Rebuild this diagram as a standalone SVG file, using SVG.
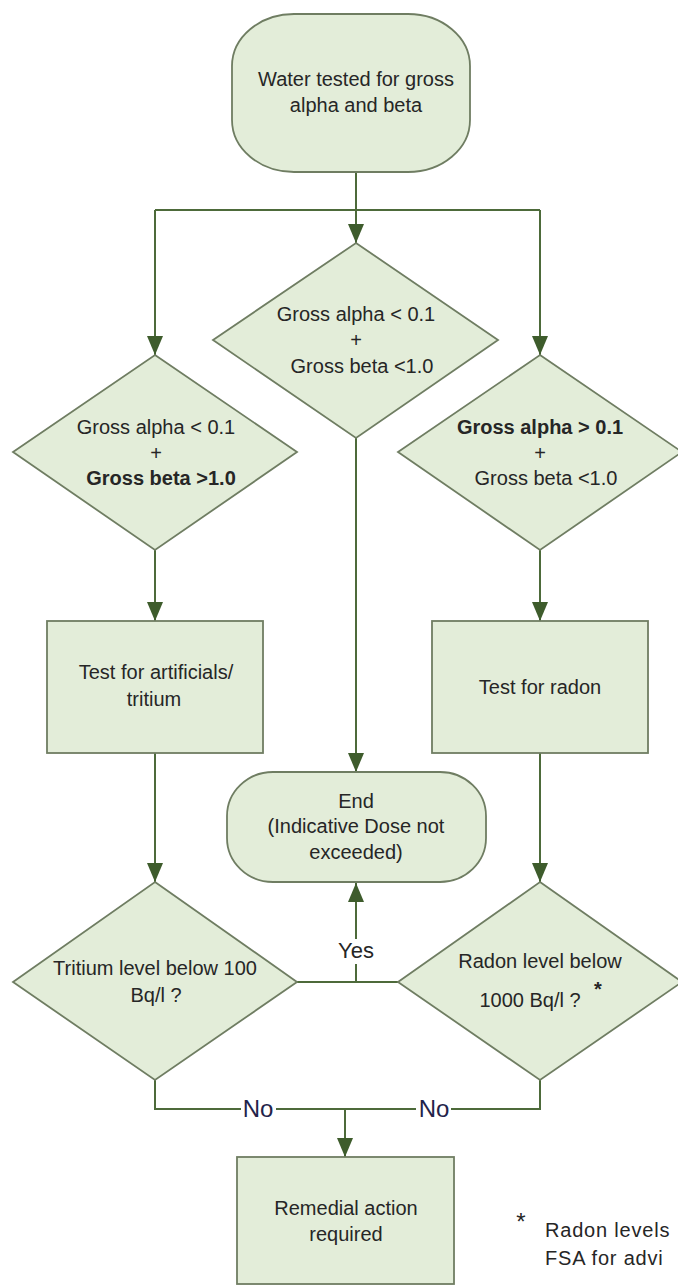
<svg xmlns="http://www.w3.org/2000/svg" width="678" height="1286" viewBox="0 0 678 1286">
<style>
.node{fill:#e3edd9;stroke:#6f7d62;stroke-width:1.8}
.t{font-family:"Liberation Sans",Arial,sans-serif;font-size:20px;fill:#262626;text-anchor:middle}
.b{font-weight:bold}
.c{fill:none;stroke:#4d6a3a;stroke-width:2}
.lbl{font-family:"Liberation Sans",Arial,sans-serif;fill:#262626;text-anchor:middle}
.no{font-size:24px;fill:#23234a}
.fn{font-family:"Liberation Sans",Arial,sans-serif;font-size:20px;letter-spacing:0.8px;fill:#262626}
</style>
<defs>
<marker id="ah" markerUnits="userSpaceOnUse" viewBox="0 0 19 16" refX="19" refY="8" markerWidth="19" markerHeight="16" orient="auto">
<path d="M0,0 L19,8 L0,16 z" fill="#3e5c2c"/>
</marker>
</defs>
<rect width="678" height="1286" fill="#ffffff"/>

<g id="connectors">
<path class="c" d="M356,172 V243" marker-end="url(#ah)"/>
<path class="c" d="M155,210 H540"/>
<path class="c" d="M155,210 V355" marker-end="url(#ah)"/>
<path class="c" d="M540,210 V355" marker-end="url(#ah)"/>
<path class="c" d="M356,438 V772" marker-end="url(#ah)"/>
<path class="c" d="M155,550 V621" marker-end="url(#ah)"/>
<path class="c" d="M540,550 V621" marker-end="url(#ah)"/>
<path class="c" d="M155,753 V882" marker-end="url(#ah)"/>
<path class="c" d="M540,753 V882" marker-end="url(#ah)"/>
<path class="c" d="M297,982 H398"/>
<path class="c" d="M356,982 V883" marker-end="url(#ah)"/>
<path class="c" d="M155,1080 V1109 H540 V1080"/>
<path class="c" d="M345,1109 V1157" marker-end="url(#ah)"/>
<rect x="337" y="939" width="38" height="25" fill="#ffffff"/>
<text class="lbl" x="356" y="958" font-size="22">Yes</text>
<rect x="241" y="1097" width="35" height="24" fill="#ffffff"/>
<text class="lbl no" x="258" y="1117">No</text>
<rect x="416" y="1097" width="35" height="24" fill="#ffffff"/>
<text class="lbl no" x="434" y="1117">No</text>
</g>

<g id="start">
<rect class="node" x="232" y="14" width="238" height="158" rx="62" ry="52"/>
<text class="t" x="356" y="86">Water tested for gross</text>
<text class="t" x="356" y="112">alpha and beta</text>
</g>

<g id="dec-center">
<polygon class="node" points="356,243 498,340 356,438 213,340"/>
<text class="t" x="356" y="321">Gross alpha &lt; 0.1</text>
<text class="t" x="356" y="347" font-size="17">+</text>
<text class="t" x="362" y="373">Gross beta &lt;1.0</text>
</g>

<g id="dec-left">
<polygon class="node" points="155,355 297,452 155,550 13,452"/>
<text class="t" x="156" y="434">Gross alpha &lt; 0.1</text>
<text class="t" x="156" y="460" font-size="17">+</text>
<text class="t b" x="161" y="485">Gross beta &gt;1.0</text>
</g>

<g id="dec-right">
<polygon class="node" points="540,355 682,452 540,550 398,452"/>
<text class="t b" x="540" y="434">Gross alpha &gt; 0.1</text>
<text class="t" x="540" y="460" font-size="17">+</text>
<text class="t" x="546" y="485">Gross beta &lt;1.0</text>
</g>

<g id="test-artificials">
<rect class="node" x="47" y="621" width="216" height="132"/>
<text class="t" x="156" y="679">Test for artificials/</text>
<text class="t" x="154" y="706">tritium</text>
</g>

<g id="test-radon">
<rect class="node" x="432" y="621" width="216" height="132"/>
<text class="t" x="540" y="694">Test for radon</text>
</g>

<g id="end">
<rect class="node" x="227" y="772" width="259" height="110" rx="46" ry="44"/>
<text class="t" x="356" y="808">End</text>
<text class="t" x="356" y="833">(Indicative Dose not</text>
<text class="t" x="356" y="859">exceeded)</text>
</g>

<g id="dec-tritium">
<polygon class="node" points="155,882 297,982 155,1080 13,982"/>
<text class="t" x="155" y="975">Tritium level below 100</text>
<text class="t" x="156" y="1002">Bq/l ?</text>
</g>

<g id="dec-radon">
<polygon class="node" points="540,882 682,982 540,1080 398,982"/>
<text class="t" x="540" y="968">Radon level below</text>
<text class="t" x="530" y="1007">1000 Bq/l ?</text>
<text class="t b" x="598" y="996" font-size="18">*</text>
</g>

<g id="remedial">
<rect class="node" x="237" y="1157" width="217" height="127"/>
<text class="t" x="346" y="1215">Remedial action</text>
<text class="t" x="346" y="1241">required</text>
</g>

<g id="footnote">
<text class="lbl" x="521" y="1230" font-size="24">*</text>
<text class="fn" x="545" y="1237">Radon levels</text>
<text class="fn" x="545" y="1265">FSA for advi</text>
</g>
</svg>
